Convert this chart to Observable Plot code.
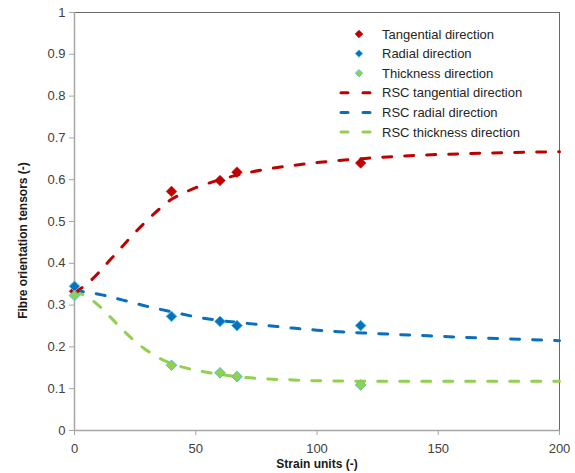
<!DOCTYPE html>
<html><head><meta charset="utf-8">
<script src="https://cdn.jsdelivr.net/npm/d3@7"></script>
<script src="https://cdn.jsdelivr.net/npm/@observablehq/plot@0.6"></script>
<style>
body{margin:0;background:#fff;}
#chart{position:relative;width:575px;height:473px;font-family:"Liberation Sans",Arial,sans-serif;}
#legend{position:absolute;left:0;top:0;pointer-events:none;}
</style></head><body><div id="chart"></div>
<script>
// Measured points
const strainUnits = [0, 40, 60, 67, 118];
const tangential = [0.333, 0.572, 0.598, 0.618, 0.640];
const radial = [0.345, 0.273, 0.261, 0.251, 0.251];
const thickness = [0.323, 0.156, 0.138, 0.129, 0.109];

// RSC model curves
const rscTangentialX = [0, 5, 10, 15, 20, 25, 30, 35, 40, 45, 50, 55, 60, 70, 80, 90, 100, 120, 140, 160, 180, 200];
const rscTangentialY = [0.330, 0.350, 0.378, 0.410, 0.442, 0.474, 0.503, 0.530, 0.553, 0.568, 0.581, 0.591, 0.600, 0.615, 0.626, 0.634, 0.641, 0.651, 0.658, 0.662, 0.665, 0.667];
const rscRadialX = [0, 5, 10, 20, 30, 40, 50, 60, 70, 80, 90, 100, 120, 140, 160, 180, 200];
const rscRadialY = [0.335, 0.331, 0.326, 0.312, 0.297, 0.284, 0.272, 0.263, 0.257, 0.251, 0.245, 0.240, 0.233, 0.228, 0.223, 0.219, 0.215];
const rscThicknessX = [0, 5, 10, 15, 20, 25, 30, 35, 40, 45, 50, 55, 60, 70, 80, 90, 100, 120, 150, 200];
const rscThicknessY = [0.333, 0.320, 0.299, 0.270, 0.240, 0.213, 0.191, 0.173, 0.160, 0.151, 0.144, 0.139, 0.134, 0.127, 0.123, 0.121, 0.119, 0.118, 0.118, 0.118];

// Ticks and labels
const xTicks = [0, 50, 100, 150, 200];
const yTicks = [0, 0.1, 0.2, 0.3, 0.4, 0.5, 0.6, 0.7, 0.8, 0.9, 1];
const xTitle = "Strain units (-)";
const yTitle = "Fibre orientation tensors (-)";
const legendLabels = ["Tangential direction", "Radial direction", "Thickness direction",
  "RSC tangential direction", "RSC radial direction", "RSC thickness direction"];

const RED = "#c00000", BLUE = "#0a70be", GREEN = "#92d050", OUTLINE = "#4bc0d8";

const pts = (ys) => strainUnits.map((x, i) => ({x, y: ys[i]}));
const crv = (xs, ys) => xs.map((x, i) => ({x, y: ys[i]}));
const lineStyle = {x: "x", y: "y", curve: "monotone-x", strokeWidth: 3, strokeDasharray: "9,13", strokeLinecap: "round"};

const plot = Plot.plot({
  width: 575, height: 473,
  marginLeft: 74, marginRight: 16, marginTop: 12, marginBottom: 43,
  style: {fontFamily: '"Liberation Sans", Arial, sans-serif', fontSize: "13px", color: "#404040", background: "white", overflow: "visible"},
  x: {domain: [0, 200]},
  y: {domain: [0, 1]},
  marks: [
    Plot.frame({stroke: "#6a6a6a"}),
    Plot.ruleX([0], {stroke: "#a6a6a6", strokeWidth: 1.5}),
    Plot.ruleY([0], {stroke: "#a6a6a6", strokeWidth: 1.5}),
    Plot.axisY({ticks: yTicks, tickSize: 5, tickPadding: 4, stroke: "#a6a6a6", fill: "#404040",
      tickFormat: d => String(+d.toFixed(1)), label: yTitle, labelAnchor: "center", labelArrow: "none", labelOffset: 56}),
    Plot.axisX({ticks: xTicks, tickSize: 5, tickPadding: 8, stroke: "#a6a6a6", fill: "#404040",
      label: xTitle, labelAnchor: "center", labelArrow: "none", labelOffset: 37}),
    Plot.line(crv(rscTangentialX, rscTangentialY), {...lineStyle, stroke: RED}),
    Plot.line(crv(rscRadialX, rscRadialY), {...lineStyle, stroke: BLUE}),
    Plot.line(crv(rscThicknessX, rscThicknessY), {...lineStyle, stroke: GREEN}),
    Plot.dot(pts(tangential), {x: "x", y: "y", symbol: "diamond2", r: 4.8, fill: RED, stroke: RED, strokeWidth: 0.5}),
    Plot.dot(pts(radial), {x: "x", y: "y", symbol: "diamond2", r: 4.8, fill: BLUE, stroke: OUTLINE, strokeWidth: 1}),
    Plot.dot(pts(thickness), {x: "x", y: "y", symbol: "diamond2", r: 4.8, fill: GREEN, stroke: OUTLINE, strokeWidth: 1})
  ]
});

d3.select(plot).selectAll('[aria-label="y-axis label"] text, [aria-label="x-axis label"] text')
  .attr("font-weight", "bold").attr("font-size", 12).attr("fill", "#1a1a1a");
// Excel centres the value-axis title on the whole chart height, a little below the plot centre
d3.select(plot).selectAll('[aria-label="y-axis label"]').each(function() {
  const t = this.getAttribute("transform") || "";
  this.setAttribute("transform", "translate(0,19) " + t);
});

const chart = document.getElementById("chart");
chart.appendChild(plot);

// Legend overlay
const legendSvg = d3.select(chart).append("svg").attr("id", "legend").attr("width", 575).attr("height", 473);
const legendColors = [RED, BLUE, GREEN, RED, BLUE, GREEN];
const legendStroke = [RED, OUTLINE, OUTLINE];
const items = legendSvg.selectAll("g").data(legendLabels).join("g")
  .attr("transform", (d, i) => `translate(0,${34 + i * 19.6})`);
items.each(function(d, i) {
  const g = d3.select(this);
  if (i < 3) {
    g.append("path").attr("d", d3.symbol(d3.symbolDiamond2, 36)())
      .attr("transform", "translate(359,0)").attr("fill", legendColors[i])
      .attr("stroke", legendStroke[i]).attr("stroke-width", 0.8);
  } else {
    g.append("line").attr("x1", 341).attr("x2", 375).attr("y1", 0).attr("y2", 0)
      .attr("stroke", legendColors[i]).attr("stroke-width", 3)
      .attr("stroke-dasharray", "7,15").attr("stroke-linecap", "round");
  }
  g.append("text").attr("x", 382).attr("y", 0).attr("dy", "0.35em")
    .attr("font-family", '"Liberation Sans", Arial, sans-serif').attr("font-size", 13)
    .attr("fill", "#262626").text(d);
});
</script></body></html>
